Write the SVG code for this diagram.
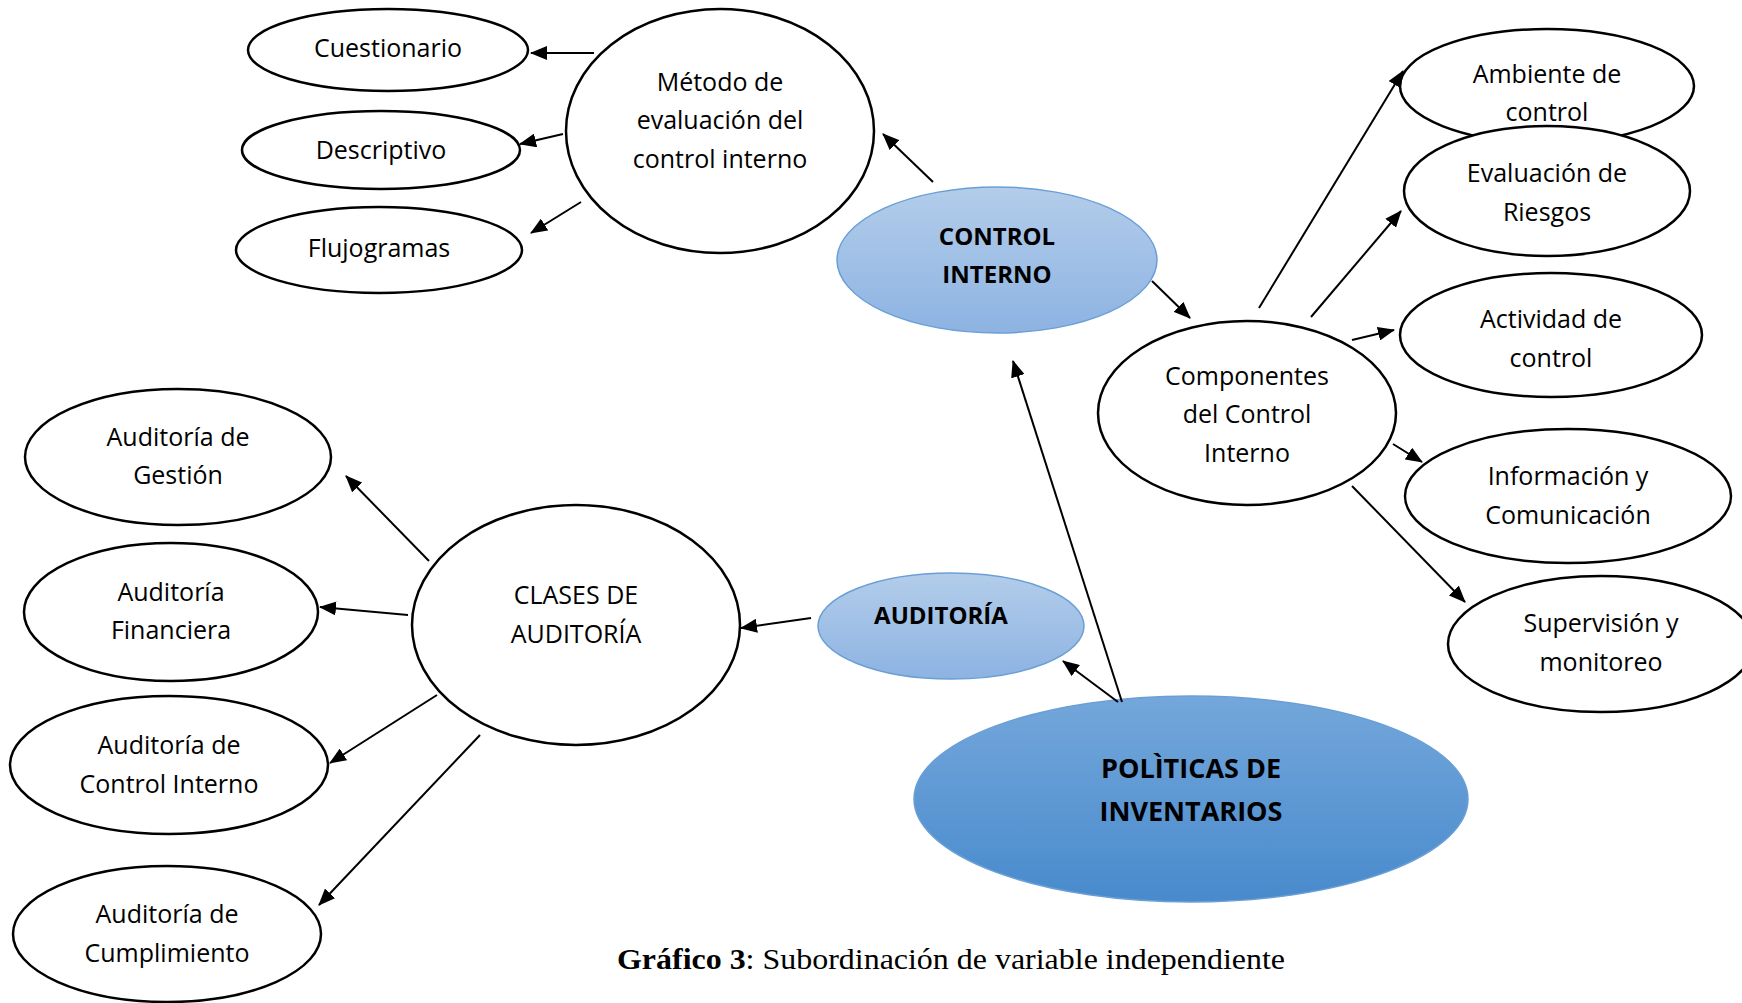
<svg xmlns="http://www.w3.org/2000/svg" width="1742" height="1003" viewBox="0 0 1742 1003">
<defs>
<linearGradient id="gLight" x1="0" y1="0" x2="0" y2="1">
<stop offset="0" stop-color="#b3cdea"/>
<stop offset="1" stop-color="#8db3e2"/>
</linearGradient>
<linearGradient id="gDark" x1="0" y1="0" x2="0" y2="1">
<stop offset="0" stop-color="#74a7db"/>
<stop offset="1" stop-color="#488acc"/>
</linearGradient>
<marker id="arr" markerUnits="userSpaceOnUse" markerWidth="18" markerHeight="14" refX="16" refY="7" orient="auto">
<path d="M0,0 L17,7 L0,14 z" fill="#000"/>
</marker>
<style>
.n{fill:#fff;stroke:#000;stroke-width:2.5}
.b1{fill:url(#gLight);stroke:#6a9fd6;stroke-width:1.5}
.b2{fill:url(#gDark);stroke:#6a9fd6;stroke-width:1.5}
.t{font-family:"Open Sans","Noto Sans",sans-serif;font-size:25px;fill:#000;text-anchor:middle;dominant-baseline:central}
.tb{font-family:"Open Sans","Noto Sans",sans-serif;font-size:24px;font-weight:bold;fill:#000;text-anchor:middle;dominant-baseline:central}
.tp{font-family:"Open Sans","Noto Sans",sans-serif;font-size:27px;font-weight:bold;fill:#000;text-anchor:middle;dominant-baseline:central}
.c line{stroke:#000;stroke-width:2;marker-end:url(#arr)}
.cap{font-family:"Liberation Serif","Times New Roman",serif;font-size:30px;fill:#000}
</style>
</defs>
<rect width="1742" height="1003" fill="#fff"/>

<g id="cuestionario"><ellipse class="n" cx="388" cy="50" rx="140" ry="41"/><text class="t" x="388" y="47">Cuestionario</text></g>
<g id="descriptivo"><ellipse class="n" cx="381" cy="150" rx="139" ry="39"/><text class="t" x="381" y="149">Descriptivo</text></g>
<g id="flujogramas"><ellipse class="n" cx="379" cy="250" rx="143" ry="43"/><text class="t" x="379" y="247">Flujogramas</text></g>
<g id="metodo"><ellipse class="n" cx="720" cy="131" rx="154" ry="122"/>
<text class="t" x="720" y="81">Método de</text><text class="t" x="720" y="119">evaluación del</text><text class="t" x="720" y="158">control interno</text></g>

<g id="control-interno"><ellipse class="b1" cx="997" cy="260" rx="160" ry="73"/>
<text class="tb" x="997" y="235">CONTROL</text><text class="tb" x="997" y="273">INTERNO</text></g>

<g id="componentes"><ellipse class="n" cx="1247" cy="413" rx="149" ry="92"/>
<text class="t" x="1247" y="375">Componentes</text><text class="t" x="1247" y="413">del Control</text><text class="t" x="1247" y="452">Interno</text></g>

<g id="ambiente"><ellipse class="n" cx="1547" cy="86" rx="147" ry="57"/>
<text class="t" x="1547" y="73">Ambiente de</text><text class="t" x="1547" y="111">control</text></g>
<g id="evaluacion"><ellipse class="n" cx="1547" cy="191" rx="143" ry="65"/>
<text class="t" x="1547" y="172">Evaluación de</text><text class="t" x="1547" y="211">Riesgos</text></g>
<g id="actividad"><ellipse class="n" cx="1551" cy="335" rx="151" ry="62"/>
<text class="t" x="1551" y="318">Actividad de</text><text class="t" x="1551" y="357">control</text></g>
<g id="informacion"><ellipse class="n" cx="1568" cy="496" rx="163" ry="67"/>
<text class="t" x="1568" y="475">Información y</text><text class="t" x="1568" y="514">Comunicación</text></g>
<g id="supervision"><ellipse class="n" cx="1601" cy="644" rx="153" ry="68"/>
<text class="t" x="1601" y="622">Supervisión y</text><text class="t" x="1601" y="661">monitoreo</text></g>

<g id="clases"><ellipse class="n" cx="576" cy="625" rx="164" ry="120"/>
<text class="t" x="576" y="594">CLASES DE</text><text class="t" x="576" y="633">AUDITORÍA</text></g>

<g id="auditoria"><ellipse class="b1" cx="951" cy="626" rx="133" ry="53"/>
<text class="tb" x="941" y="614">AUDITORÍA</text></g>

<g id="politicas"><ellipse class="b2" cx="1191" cy="799" rx="277" ry="103"/>
<text class="tp" x="1191" y="767">POLÌTICAS DE</text><text class="tp" x="1191" y="810">INVENTARIOS</text></g>

<g id="gestion"><ellipse class="n" cx="178" cy="457" rx="153" ry="68"/>
<text class="t" x="178" y="436">Auditoría de</text><text class="t" x="178" y="474">Gestión</text></g>
<g id="financiera"><ellipse class="n" cx="171" cy="612" rx="147" ry="69"/>
<text class="t" x="171" y="591">Auditoría</text><text class="t" x="171" y="629">Financiera</text></g>
<g id="control-interno-aud"><ellipse class="n" cx="169" cy="765" rx="159" ry="69"/>
<text class="t" x="169" y="744">Auditoría de</text><text class="t" x="169" y="783">Control Interno</text></g>
<g id="cumplimiento"><ellipse class="n" cx="167" cy="934" rx="154" ry="68"/>
<text class="t" x="167" y="913">Auditoría de</text><text class="t" x="167" y="952">Cumplimiento</text></g>

<g id="connectors" class="c">
<line x1="594" y1="53" x2="531" y2="53"/>
<line x1="563" y1="134" x2="520" y2="144"/>
<line x1="581" y1="202" x2="531" y2="233"/>
<line x1="933" y1="182" x2="883" y2="134"/>
<line x1="1152" y1="281" x2="1190" y2="318"/>
<line x1="1259" y1="308" x2="1403" y2="71"/>
<line x1="1311" y1="317" x2="1401" y2="211"/>
<line x1="1352" y1="340" x2="1394" y2="330"/>
<line x1="1393" y1="444" x2="1422" y2="462"/>
<line x1="1352" y1="486" x2="1465" y2="602"/>
<line x1="1122" y1="702" x2="1013" y2="361"/>
<line x1="1118" y1="702" x2="1063" y2="661"/>
<line x1="811" y1="618" x2="741" y2="628"/>
<line x1="429" y1="561" x2="346" y2="476"/>
<line x1="408" y1="615" x2="320" y2="607"/>
<line x1="437" y1="695" x2="330" y2="763"/>
<line x1="480" y1="735" x2="319" y2="905"/>
</g>

<text class="cap" x="617" y="969" textLength="668" lengthAdjust="spacingAndGlyphs"><tspan font-weight="bold">Gráfico 3</tspan>: Subordinación de variable independiente</text>
</svg>
